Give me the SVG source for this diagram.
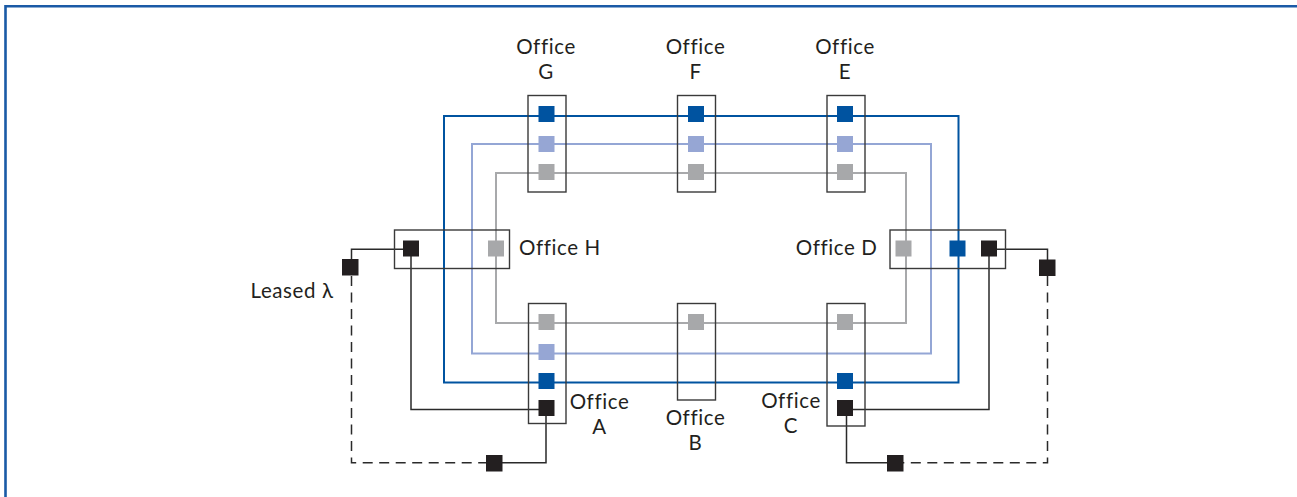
<svg xmlns="http://www.w3.org/2000/svg" width="1297" height="497" viewBox="0 0 1297 497">
  <style>
    .frame { fill: none; stroke: #1a5aa6; stroke-width: 2.6; }
    .box { fill: none; stroke: #3a3a3a; stroke-width: 1.4; }
    .ring-blue { fill: none; stroke: #0053a0; stroke-width: 2; }
    .ring-light { fill: none; stroke: #94a6d5; stroke-width: 2; }
    .ring-grey { fill: none; stroke: #a8a9ab; stroke-width: 2; }
    .link { fill: none; stroke: #2a2a2a; stroke-width: 1.5; }
    .leased { fill: none; stroke: #2a2a2a; stroke-width: 1.5; stroke-dasharray: 10 6.5; }
    .sq-blue { fill: #0053a0; }
    .sq-light { fill: #96a6d4; }
    .sq-grey { fill: #a7a8aa; }
    .sq-black { fill: #231f20; }
    .label { font-family: Lato, "Open Sans", "Liberation Sans", sans-serif; font-size: 20.5px; letter-spacing: 0.6px; fill: #231f20; }
  </style>

  <!-- page frame -->
  <path class="frame" d="M5.5,497 V6.2 H1297"/>

  <!-- connectors: three wavelength rings plus black tie lines and leased lambda -->
  <g id="connectors">
    <rect class="ring-blue" x="444" y="116" width="514.5" height="266.5"/>
    <rect class="ring-light" x="472" y="144" width="459" height="209.5"/>
    <rect class="ring-grey" x="496" y="173" width="410" height="150"/>
    <!-- H to A -->
    <path class="link" d="M411,248.5 V409.5 H546"/>
    <!-- D to C -->
    <path class="link" d="M989,248.5 V409.5 H845"/>
    <!-- leased lambda, west side -->
    <path class="link" d="M411,249.3 H351.5 V267"/>
    <path class="leased" d="M351.5,276 V462.8 H486"/>
    <path class="link" d="M494,462.8 H546 V408"/>
    <!-- leased lambda, east side -->
    <path class="link" d="M989,249.3 H1047.5 V267"/>
    <path class="leased" d="M1047.5,276 V462.8 H903"/>
    <path class="link" d="M895,462.8 H846.5 V408"/>
  </g>

  <!-- Office G -->
  <g id="office-g">
    <rect class="box" x="528" y="95.5" width="38" height="96.5"/>
    <rect class="sq-blue" x="538.5" y="106" width="16" height="16"/>
    <rect class="sq-light" x="538.5" y="136" width="16" height="16"/>
    <rect class="sq-grey" x="538.5" y="164" width="16" height="16"/>
    <text class="label" x="546" y="54" text-anchor="middle">Office</text>
    <text class="label" x="546" y="79" text-anchor="middle">G</text>
  </g>

  <!-- Office F -->
  <g id="office-f">
    <rect class="box" x="677.5" y="95.5" width="38" height="96.5"/>
    <rect class="sq-blue" x="688" y="106" width="16" height="16"/>
    <rect class="sq-light" x="688" y="136" width="16" height="16"/>
    <rect class="sq-grey" x="688" y="164" width="16" height="16"/>
    <text class="label" x="695.5" y="54" text-anchor="middle">Office</text>
    <text class="label" x="695.5" y="79" text-anchor="middle">F</text>
  </g>

  <!-- Office E -->
  <g id="office-e">
    <rect class="box" x="827" y="95.5" width="38" height="96.5"/>
    <rect class="sq-blue" x="837" y="106" width="16" height="16"/>
    <rect class="sq-light" x="837" y="136" width="16" height="16"/>
    <rect class="sq-grey" x="837" y="164" width="16" height="16"/>
    <text class="label" x="845" y="54" text-anchor="middle">Office</text>
    <text class="label" x="845" y="79" text-anchor="middle">E</text>
  </g>

  <!-- Office H -->
  <g id="office-h">
    <rect class="box" x="394.5" y="230" width="115" height="38.5"/>
    <rect class="sq-black" x="403" y="240.5" width="16" height="16"/>
    <rect class="sq-grey" x="488" y="240.5" width="16" height="16"/>
    <text class="label" x="519" y="254.5">Office H</text>
  </g>

  <!-- Office D -->
  <g id="office-d">
    <rect class="box" x="890" y="230" width="115.5" height="38.5"/>
    <rect class="sq-grey" x="895.5" y="240.5" width="16" height="16"/>
    <rect class="sq-blue" x="949.5" y="240.5" width="16" height="16"/>
    <rect class="sq-black" x="981" y="240.5" width="16" height="16"/>
    <text class="label" x="877.5" y="254.5" text-anchor="end">Office D</text>
  </g>

  <!-- Office A -->
  <g id="office-a">
    <rect class="box" x="528.5" y="303.5" width="37.5" height="120"/>
    <rect class="sq-grey" x="538.5" y="314" width="16" height="16"/>
    <rect class="sq-light" x="538.5" y="344" width="16" height="16"/>
    <rect class="sq-blue" x="538.5" y="373" width="16" height="16"/>
    <rect class="sq-black" x="538.5" y="400" width="16" height="16"/>
    <text class="label" x="599.5" y="408.5" text-anchor="middle">Office</text>
    <text class="label" x="599.5" y="433.5" text-anchor="middle">A</text>
  </g>

  <!-- Office B -->
  <g id="office-b">
    <rect class="box" x="677.5" y="303.5" width="38" height="96.5"/>
    <rect class="sq-grey" x="688" y="314" width="16" height="16"/>
    <text class="label" x="695.5" y="424.5" text-anchor="middle">Office</text>
    <text class="label" x="695.5" y="449.5" text-anchor="middle">B</text>
  </g>

  <!-- Office C -->
  <g id="office-c">
    <rect class="box" x="827" y="303.5" width="38" height="122.5"/>
    <rect class="sq-grey" x="837" y="314" width="16" height="16"/>
    <rect class="sq-blue" x="837" y="373" width="16" height="16"/>
    <rect class="sq-black" x="837" y="400" width="16" height="16"/>
    <text class="label" x="791" y="408" text-anchor="middle">Office</text>
    <text class="label" x="791" y="433" text-anchor="middle">C</text>
  </g>

  <!-- leased lambda repeaters -->
  <g id="leased-west">
    <rect class="sq-black" x="342" y="259" width="16.5" height="16.5"/>
    <text class="label" x="250.5" y="297.5">Leased λ</text>
  </g>
  <g id="leased-south-west">
    <rect class="sq-black" x="486" y="455" width="16.5" height="16.5"/>
  </g>
  <g id="leased-south-east">
    <rect class="sq-black" x="887" y="455" width="16.5" height="16.5"/>
  </g>
  <g id="leased-east">
    <rect class="sq-black" x="1039" y="259.5" width="16.5" height="16.5"/>
  </g>
</svg>
